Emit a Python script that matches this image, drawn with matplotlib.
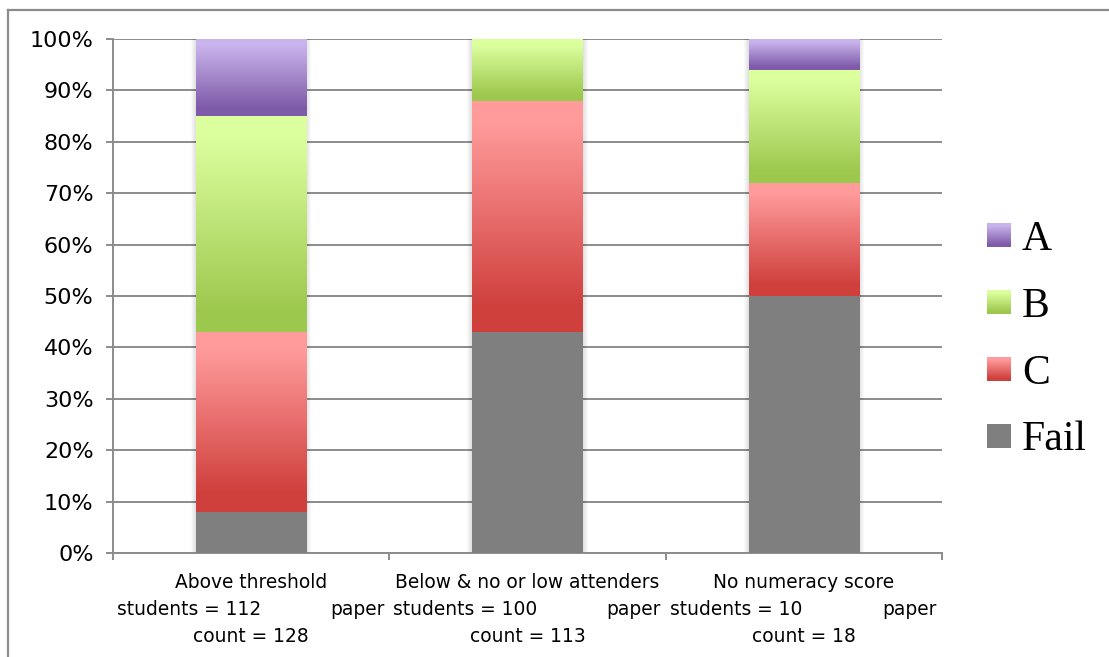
import numpy as np
import matplotlib
matplotlib.use("Agg")
import matplotlib.pyplot as plt
from matplotlib.patches import Rectangle
from matplotlib.lines import Line2D
from matplotlib.legend_handler import HandlerBase
from matplotlib import transforms
from matplotlib.colors import to_rgb

# ---- data -------------------------------------------------------------
groups = ["Above threshold", "Below & no or low attenders", "No numeracy score"]
students = [112, 100, 10]
paper_counts = [128, 113, 18]

grades = ["Fail", "C", "B", "A"]          # stacking order, bottom to top
fail = [0.08, 0.43, 0.50]
grade_c = [0.35, 0.45, 0.22]
grade_b = [0.42, 0.12, 0.22]
grade_a = [0.15, 0.00, 0.06]
shares = [fail, grade_c, grade_b, grade_a]

# gradient colours per grade: (top, bottom)
grade_colors = {
    "A": ("#C9B3EC", "#7E5AA8"),
    "B": ("#DCFF9E", "#9DC84E"),
    "C": ("#FF9B9B", "#CF3F3C"),
    "Fail": ("#7F7F7F", "#7F7F7F"),
}

GRID = "#8C8C8C"
W, H, DPI = 1109, 657, 100


def ramp(t):
    return np.clip((t - 0.1) / 0.8, 0, 1)


def gradient_array(top, bottom, n=600):
    t = ramp(np.linspace(0, 1, n))[:, None]
    c0, c1 = np.array(to_rgb(top)), np.array(to_rgb(bottom))
    rows = c0[None, :] * (1 - t) + c1[None, :] * t
    return np.repeat(rows[:, None, :], 2, axis=1)


class GradientHandler(HandlerBase):
    def __init__(self, top, bottom, n=24):
        super().__init__()
        self.top, self.bottom, self.n = top, bottom, n

    def create_artists(self, legend, orig_handle, xdescent, ydescent,
                       width, height, fontsize, trans):
        c0, c1 = np.array(to_rgb(self.top)), np.array(to_rgb(self.bottom))
        side = min(width, height)
        x0 = -xdescent + (width - side) / 2
        y0 = -ydescent + (height - side) / 2
        arts = []
        for k in range(self.n):
            t = ramp((k + 0.5) / self.n)
            col = c0 * (1 - t) + c1 * t
            y = y0 + side * (1 - (k + 1) / self.n)
            arts.append(Rectangle((x0, y), side, side / self.n * 1.05,
                                  facecolor=col, edgecolor="none",
                                  transform=trans))
        return arts


fig = plt.figure(figsize=(W / DPI, H / DPI), dpi=DPI)
fig.patch.set_facecolor("white")

# outer frame of the chart area (top and left edges inside the canvas)
frame_kw = dict(color=GRID, lw=1.6, transform=fig.transFigure)
fig.lines.append(Line2D([8 / W, 1.0], [1 - 10 / H, 1 - 10 / H], **frame_kw))
fig.lines.append(Line2D([8 / W, 8 / W], [0.0, 1 - 10 / H], **frame_kw))

ax = fig.add_axes([113 / W, 104 / H, 829 / W, 514 / H])

x = np.arange(len(groups))
bar_w = 0.40
px = 1.0 / 276.3   # one pixel in data units along x

bottoms = np.zeros(len(groups))
for grade, vals in zip(grades, shares):
    top_c, bot_c = grade_colors[grade]
    img = gradient_array(top_c, bot_c)
    for i, v in enumerate(vals):
        if v <= 0:
            continue
        ax.imshow(img, extent=(x[i] - bar_w / 2, x[i] + bar_w / 2,
                               bottoms[i], bottoms[i] + v),
                  aspect="auto", interpolation="nearest",
                  origin="upper", zorder=3)
    bottoms += np.array(vals)

# soft shadow around each bar
for i in range(len(groups)):
    for k in range(1, 6):
        ax.add_patch(Rectangle((x[i] - bar_w / 2 - k * px, 0),
                               bar_w + 2 * k * px, bottoms[i] + k * 0.0005,
                               facecolor="#000000", alpha=0.022,
                               edgecolor="none", zorder=2))

ax.set_xlim(-0.5, len(groups) - 0.5)
ax.set_ylim(0, 1)

# y axis
ax.set_yticks(np.arange(0, 1.01, 0.1))
ax.set_yticklabels([f"{int(round(v * 100))}%" for v in np.arange(0, 1.01, 0.1)],
                   fontsize=16, family="DejaVu Sans")
ax.yaxis.grid(True, color=GRID, lw=1.4)
ax.set_axisbelow(True)

# x axis: ticks on category boundaries
ax.set_xticks(np.arange(-0.5, len(groups), 1.0))
ax.set_xticklabels([])
ax.tick_params(axis="both", direction="out", length=5, width=1.4,
               color=GRID, pad=9)

for side in ("top", "right"):
    ax.spines[side].set_visible(False)
for side in ("left", "bottom"):
    ax.spines[side].set_color(GRID)
    ax.spines[side].set_linewidth(1.4)

# category labels (three lines each)
blend = transforms.blended_transform_factory(ax.transData, ax.transAxes)
lab_font = dict(fontsize=13.4, family="DejaVu Sans", color="black")
line_y = [-35 / 514, -62 / 514, -89 / 514]
for i, name in enumerate(groups):
    ax.text(x[i], line_y[0], name, transform=blend,
            ha="center", va="baseline", **lab_font)
    left_tr = blend + transforms.ScaledTranslation(4 / DPI, 0, fig.dpi_scale_trans)
    right_tr = blend + transforms.ScaledTranslation(-5 / DPI, 0, fig.dpi_scale_trans)
    ax.text(x[i] - 0.5, line_y[1], f"students = {students[i]}",
            transform=left_tr, ha="left", va="baseline", **lab_font)
    ax.text(x[i] + 0.5, line_y[1], "paper",
            transform=right_tr, ha="right", va="baseline", **lab_font)
    ax.text(x[i], line_y[2], f"count = {paper_counts[i]}", transform=blend,
            ha="center", va="baseline", **lab_font)

# legend, top entry first
legend_order = ["A", "B", "C", "Fail"]
handles = [Rectangle((0, 0), 1, 1) for _ in legend_order]
hmap = {h: GradientHandler(*grade_colors[g]) for h, g in zip(handles, legend_order)}
fig.legend(handles, legend_order, handler_map=hmap,
           loc="center left", bbox_to_anchor=(987 / W, 1 - 340 / H),
           frameon=False, borderpad=0, borderaxespad=0,
           handlelength=0.57, handleheight=0.57, handletextpad=0.27,
           labelspacing=0.68,
           prop=dict(family="Liberation Serif", size=30))

fig.savefig("out.png", dpi=DPI, facecolor="white")
